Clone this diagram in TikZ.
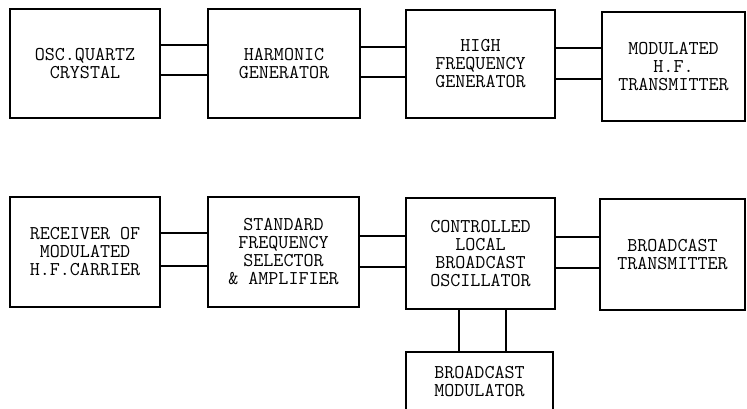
\documentclass[tikz,border=0pt]{standalone}
\usepackage{tikz}

\tikzset{
  blk/.style={draw, line width=1.5pt, align=center, inner sep=0pt,
    font=\ttfamily\fontsize{19.5}{18}\selectfont},
  wire/.style={line width=1.5pt}
}

\begin{document}
\begin{tikzpicture}[x=1pt,y=-1pt]
  \useasboundingbox (0,0) rectangle (747,408);
  % top chain
  \node[blk, minimum width=150pt, minimum height=109pt] (osc)   at (85,63.5)    {OSC.QUARTZ\\CRYSTAL};
  \node[blk, minimum width=152pt, minimum height=109pt] (harm)  at (284,63.5)   {HARMONIC\\GENERATOR};
  \node[blk, minimum width=149pt, minimum height=108pt] (hfgen) at (480.5,64)   {HIGH\\FREQUENCY\\GENERATOR};
  \node[blk, minimum width=143pt, minimum height=109pt] (modtx) at (673.5,66.5) {MODULATED\\H.F.\\TRANSMITTER};
  \draw[wire]  (osc.east |- 0,45)   -- (harm.west |- 0,45);
  \draw[wire]  (osc.east |- 0,75)   -- (harm.west |- 0,75);
  \draw[wire]  (harm.east |- 0,47)  -- (hfgen.west |- 0,47);
  \draw[wire]  (harm.east |- 0,77)  -- (hfgen.west |- 0,77);
  \draw[wire]  (hfgen.east |- 0,48) -- (modtx.west |- 0,48);
  \draw[wire]  (hfgen.east |- 0,79) -- (modtx.west |- 0,79);
  % bottom chain
  \node[blk, minimum width=150pt, minimum height=110pt] (recv)    at (85,252)     {RECEIVER OF\\MODULATED\\H.F.CARRIER};
  \node[blk, minimum width=151pt, minimum height=110pt] (stdsel)  at (283.5,252)  {STANDARD\\FREQUENCY\\SELECTOR\\\& AMPLIFIER};
  \node[blk, minimum width=149pt, minimum height=111pt] (ctrlosc) at (480.5,253.5) {CONTROLLED\\LOCAL\\BROADCAST\\OSCILLATOR};
  \node[blk, minimum width=145pt, minimum height=111pt] (bctx)    at (672.5,254.5) {BROADCAST\\TRANSMITTER};
  \node[blk, minimum width=147pt, minimum height=60pt]  (bcmod)   at (479.5,382)  {BROADCAST\\MODULATOR};
  \draw[wire]  (recv.east |- 0,233)    -- (stdsel.west |- 0,233);
  \draw[wire]  (recv.east |- 0,266)    -- (stdsel.west |- 0,266);
  \draw[wire]  (stdsel.east |- 0,236)  -- (ctrlosc.west |- 0,236);
  \draw[wire]  (stdsel.east |- 0,267)  -- (ctrlosc.west |- 0,267);
  \draw[wire]  (ctrlosc.east |- 0,237) -- (bctx.west |- 0,237);
  \draw[wire]  (ctrlosc.east |- 0,268) -- (bctx.west |- 0,268);
  \draw[wire]  (ctrlosc.south -| 459,0) -- (bcmod.north -| 459,0);
  \draw[wire]  (ctrlosc.south -| 506,0) -- (bcmod.north -| 506,0);
\end{tikzpicture}
\end{document}
